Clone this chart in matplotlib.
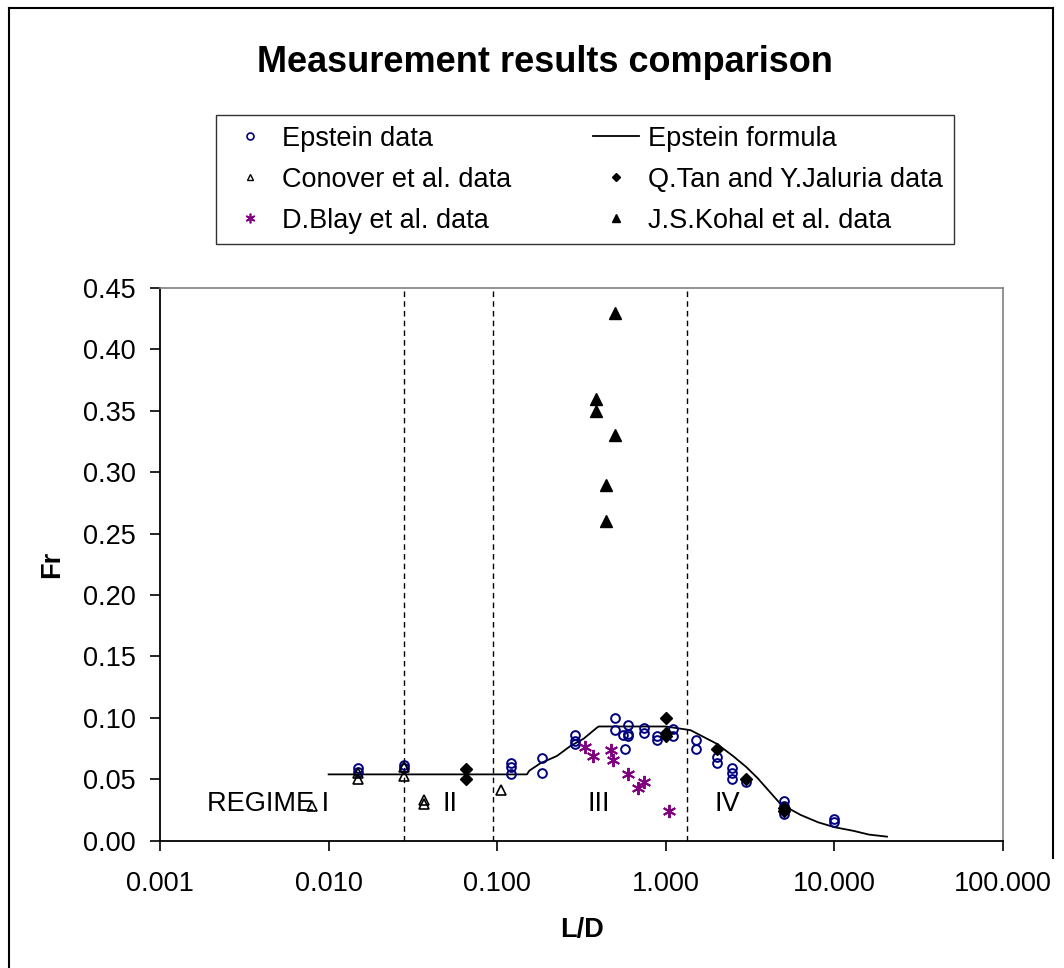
import numpy as np
import matplotlib
matplotlib.use('Agg')
import matplotlib.pyplot as plt
from matplotlib.ticker import FixedLocator, FuncFormatter
from matplotlib.lines import Line2D

plt.rcParams['font.family'] = ['Liberation Sans', 'DejaVu Sans']

# Epstein data (open navy circles)
ep_x = [0.015, 0.015, 0.028, 0.028, 0.12, 0.12, 0.12, 0.184, 0.184,
        0.29, 0.29, 0.29, 0.5, 0.5, 0.56, 0.57, 0.6, 0.6, 0.6,
        0.74, 0.74, 0.89, 0.89, 1.11, 1.11, 1.5, 1.5, 2.0, 2.0,
        2.47, 2.47, 2.47, 3.0, 5.0, 5.0, 5.0, 10.0, 10.0]
ep_y = [0.059, 0.056, 0.062, 0.059, 0.063, 0.060, 0.054, 0.067, 0.055,
        0.086, 0.081, 0.079, 0.100, 0.090, 0.086, 0.075, 0.094, 0.087, 0.085,
        0.092, 0.088, 0.085, 0.082, 0.091, 0.085, 0.082, 0.075, 0.068, 0.063,
        0.059, 0.055, 0.050, 0.048, 0.032, 0.028, 0.022, 0.018, 0.015]

# Epstein formula (line)
ef_x = [0.010, 0.150, 0.155, 0.18, 0.226, 0.271, 0.325, 0.39, 0.40, 1.0,
        1.4, 2.0, 2.5, 3.0, 3.5, 4.0, 4.78, 6.3, 8.0, 10.0, 13.0, 16.0, 20.5]
ef_y = [0.054, 0.054, 0.057, 0.063, 0.069, 0.077, 0.083, 0.092, 0.093, 0.093,
        0.090, 0.079, 0.069, 0.060, 0.051, 0.042, 0.030, 0.021, 0.015, 0.011,
        0.008, 0.005, 0.0033]

# Conover et al. data (open triangles)
co_x = [0.008, 0.015, 0.015, 0.028, 0.028, 0.037, 0.037, 0.105]
co_y = [0.028, 0.055, 0.050, 0.060, 0.053, 0.033, 0.030, 0.041]

# Q.Tan and Y.Jaluria data (diamonds)
qt_x = [0.065, 0.065, 1.0, 1.0, 1.0, 2.0, 3.0, 5.0, 5.0]
qt_y = [0.058, 0.050, 0.100, 0.088, 0.085, 0.075, 0.050, 0.027, 0.024]

# D.Blay et al. data (purple stars)
bl_x = [0.333, 0.37, 0.475, 0.486, 0.60, 0.68, 0.745, 1.04]
bl_y = [0.076, 0.069, 0.074, 0.066, 0.054, 0.043, 0.048, 0.024]

# J.S.Kohal et al. data (filled triangles)
ko_x = [0.50, 0.387, 0.387, 0.50, 0.443, 0.443]
ko_y = [0.43, 0.36, 0.35, 0.33, 0.29, 0.26]

vlines_x = [0.028, 0.095, 1.34]
regimes = [('REGIME I', 0.00435), ('II', 0.0527), ('III', 0.40), ('IV', 2.32)]

xticks = [0.001, 0.01, 0.1, 1, 10, 100]
yticks = [0.0, 0.05, 0.10, 0.15, 0.20, 0.25, 0.30, 0.35, 0.40, 0.45]

FS = 19.5

fig = plt.figure(figsize=(10.64, 9.68), dpi=100)
ax = fig.add_axes([0.1504, 0.1315, 0.7923, 0.571])

navy = '#000080'
purple = '#800080'

ax.plot(ef_x, ef_y, color='black', lw=1.3, zorder=2)
for xv in vlines_x:
    ax.axvline(xv, color='black', ls=(0, (4, 3)), lw=1.0, zorder=1)

ax.plot(ep_x, ep_y, 'o', mfc='none', mec=navy, mew=1.4, ms=6.3, zorder=3)
ax.plot(co_x, co_y, '^', mfc='none', mec='black', mew=1.2, ms=6.5, zorder=4)
ax.plot(qt_x, qt_y, 'D', color='black', ms=6.5, zorder=4)
ax.plot(bl_x, bl_y, marker=(6, 2, 0), ls='none', mec=purple, mew=1.4, ms=9.5, zorder=4)
ax.plot(ko_x, ko_y, '^', color='black', ms=8.5, zorder=4)

for txt, xv in regimes:
    ax.text(xv, 0.030, txt, fontsize=FS, ha='center', va='center')

ax.set_xscale('log')
ax.set_xlim(0.001, 100)
ax.set_ylim(0, 0.45)
ax.xaxis.set_major_locator(FixedLocator(xticks))
ax.xaxis.set_minor_locator(FixedLocator([]))
ax.xaxis.set_major_formatter(FuncFormatter(lambda v, p: '%.3f' % v))
ax.yaxis.set_major_locator(FixedLocator(yticks))
ax.yaxis.set_major_formatter(FuncFormatter(lambda v, p: '%.2f' % v))
ax.tick_params(axis='both', direction='out', length=7, width=1.2,
               labelsize=FS, colors='black')
ax.tick_params(axis='x', pad=15)
ax.tick_params(axis='y', pad=10.5)
for s in ['top', 'right']:
    ax.spines[s].set_color('#808080')
    ax.spines[s].set_linewidth(1.2)
for s in ['left', 'bottom']:
    ax.spines[s].set_linewidth(1.3)

ax.set_xlabel('L/D', fontsize=FS, fontweight='bold', labelpad=14)
ax.set_ylabel('Fr', fontsize=FS, fontweight='bold', labelpad=13)

fig.text(0.512, 1 - 62 / 968, 'Measurement results comparison', fontsize=26,
         fontweight='bold', ha='center', va='center')

handles = [
    Line2D([], [], marker='o', ls='none', mfc='none', mec=navy, mew=1.2, ms=5),
    Line2D([], [], marker='^', ls='none', mfc='none', mec='black', mew=1.0, ms=5),
    Line2D([], [], marker=(6, 2, 0), ls='none', mec=purple, mew=1.2, ms=7),
    Line2D([], [], color='black', lw=1.3),
    Line2D([], [], marker='D', ls='none', color='black', ms=4.5),
    Line2D([], [], marker='^', ls='none', color='black', ms=5.5),
]
labels = ['Epstein data', 'Conover et al. data', 'D.Blay et al. data',
          'Epstein formula', 'Q.Tan and Y.Jaluria data', 'J.S.Kohal et al. data']
leg = fig.legend(handles, labels, ncol=2, loc='upper left',
                 bbox_to_anchor=(216 / 1064, 1 - 115 / 968), borderaxespad=0,
                 fontsize=FS, frameon=True, fancybox=False, edgecolor='black',
                 handlelength=1.7, columnspacing=3.0, labelspacing=0.55,
                 borderpad=0.4, handletextpad=0.35)
leg.get_frame().set_linewidth(1.0)

# outer chart border
fig.add_artist(Line2D([9 / 1064, 9 / 1064], [0, 1 - 8 / 968], transform=fig.transFigure,
                      color='black', lw=1.5))
fig.add_artist(Line2D([9 / 1064, 1053 / 1064], [1 - 8 / 968, 1 - 8 / 968],
                      transform=fig.transFigure, color='black', lw=1.5))
fig.add_artist(Line2D([1053 / 1064, 1053 / 1064], [1 - 858 / 968, 1 - 8 / 968],
                      transform=fig.transFigure, color='black', lw=1.5))

fig.savefig('out.png', dpi=100)
